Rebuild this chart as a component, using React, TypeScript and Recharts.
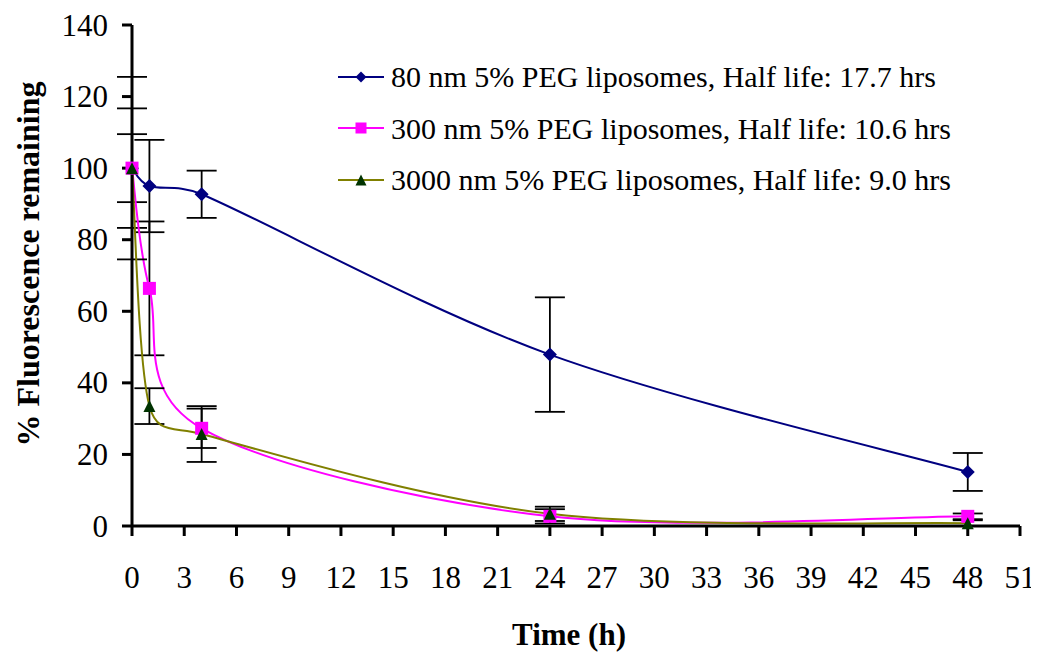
import React from "react";
import { ErrorBar, Line, LineChart, XAxis, YAxis } from "recharts";

const times = [0, 1, 4, 24, 48];
const nm80 = [100, 95, 92.7, 47.9, 15.1];
const nm80Err = [9.5, 12.9, 6.6, 16, 5.3];
const nm300 = [100, 66.4, 27.3, 2.7, 2.7];
const nm300Err = [16.7, 18.7, 5.5, 2, 0.8];
const nm3000 = [100, 33.5, 25.7, 3.4, 0.8];
const nm3000Err = [25.5, 5, 7.8, 2, 0.8];

const xTicks = [0, 3, 6, 9, 12, 15, 18, 21, 24, 27, 30, 33, 36, 39, 42, 45, 48, 51];
const yTicks = [0, 20, 40, 60, 80, 100, 120, 140];

const legendLabels = [
  "80 nm 5% PEG liposomes, Half life: 17.7 hrs",
  "300 nm 5% PEG liposomes, Half life: 10.6 hrs",
  "3000 nm 5% PEG liposomes, Half life: 9.0 hrs",
];

const data = times.map((t, i) => ({
  t,
  a: nm80[i],
  aErr: nm80Err[i],
  b: nm300[i],
  bErr: nm300Err[i],
  c: nm3000[i],
  cErr: nm3000Err[i],
}));

const FONT = '"Liberation Serif", "Times New Roman", serif';
const NAVY = "#000080";
const MAGENTA = "#FF00FF";
const OLIVE = "#808000";
const DARK_GREEN = "#003300";

// Excel-style smoothed line (bezier, control points capped at half a segment)
const excelSmooth = (context: any) => {
  let pts: number[][] = [];
  const dist = (a: number[], b: number[]) => Math.hypot(b[0] - a[0], b[1] - a[1]);
  return {
    areaStart() {},
    areaEnd() {},
    lineStart() {
      pts = [];
    },
    point(x: number, y: number) {
      pts.push([+x, +y]);
    },
    lineEnd() {
      const n = pts.length;
      if (!n) return;
      context.moveTo(pts[0][0], pts[0][1]);
      for (let i = 0; i < n - 1; i++) {
        const p0 = pts[i > 0 ? i - 1 : i];
        const p1 = pts[i];
        const p2 = pts[i + 1];
        const p3 = pts[i + 2 < n ? i + 2 : i + 1];
        const d02 = dist(p0, p2);
        const d12 = dist(p1, p2);
        const d13 = dist(p1, p3);
        let f1 = 1 / 6;
        let f2 = 1 / 6;
        if (d02 / 6 >= d12 / 2 && d02 > 0) f1 = d12 / d02 / 2;
        if (d13 / 6 >= d12 / 2 && d13 > 0) f2 = d12 / d13 / 2;
        context.bezierCurveTo(
          p1[0] + (p2[0] - p0[0]) * f1,
          p1[1] + (p2[1] - p0[1]) * f1,
          p2[0] - (p3[0] - p1[0]) * f2,
          p2[1] - (p3[1] - p1[1]) * f2,
          p2[0],
          p2[1]
        );
      }
    },
  };
};

const Diamond = ({ cx, cy, size = 7, fill = NAVY }: any) => (
  <polygon
    points={`${cx},${cy - size} ${cx + size},${cy} ${cx},${cy + size} ${cx - size},${cy}`}
    fill={fill}
  />
);
const Square = ({ cx, cy, size = 6.5, fill = MAGENTA }: any) => (
  <rect x={cx - size} y={cy - size} width={size * 2} height={size * 2} fill={fill} />
);
const Triangle = ({ cx, cy, size = 6, fill = DARK_GREEN }: any) => (
  <polygon
    points={`${cx},${cy - size} ${cx + size},${cy + size} ${cx - size},${cy + size}`}
    fill={fill}
  />
);

const dotOf = (Shape: any) => (props: any) =>
  <Shape key={`d-${props.index}`} cx={props.cx} cy={props.cy} />;

const XTick = ({ x, y, payload }: any) => (
  <text x={x} y={y + 52} textAnchor="middle" fontFamily={FONT} fontSize={31} fill="#000">
    {payload.value}
  </text>
);

const YTick = ({ x, y, payload }: any) => (
  <text x={x - 14} y={y + 10.5} textAnchor="end" fontFamily={FONT} fontSize={31} fill="#000">
    {payload.value}
  </text>
);

const XTitle = ({ viewBox }: any) => (
  <text
    x={561}
    y={viewBox.y + 119}
    textAnchor="middle"
    fontFamily={FONT}
    fontWeight="bold"
    fontSize={31}
    fill="#000"
  >
    Time (h)
  </text>
);

const YTitle = () => (
  <text
    x={0}
    y={0}
    transform="translate(31, 256) rotate(-90)"
    textAnchor="middle"
    fontFamily={FONT}
    fontWeight="bold"
    fontSize={32}
    fill="#000"
  >
    % Fluorescence remaining
  </text>
);

const legendIcons = [Diamond, Square, Triangle];
const legendColors = [NAVY, MAGENTA, OLIVE];

export default function App() {
  const axisStyle = { stroke: "#000", strokeWidth: 3 };
  return (
    <div style={{ position: "relative", width: 1031, height: 644 }}>
      <LineChart
        width={1031}
        height={644}
        data={data}
        margin={{ top: 17, right: 19, bottom: 0, left: 0 }}
      >
        <XAxis
          dataKey="t"
          type="number"
          domain={[0, 51]}
          ticks={xTicks}
          interval={0}
          height={126}
          tickSize={10}
          tickMargin={0}
          axisLine={axisStyle}
          tickLine={axisStyle}
          tick={<XTick />}
          label={<XTitle />}
        />
        <YAxis
          type="number"
          domain={[0, 140]}
          ticks={yTicks}
          interval={0}
          width={124}
          tickSize={10}
          tickMargin={0}
          axisLine={axisStyle}
          tickLine={axisStyle}
          tick={<YTick />}
          label={<YTitle />}
        />
        <Line
          dataKey="a"
          type={excelSmooth as any}
          stroke={NAVY}
          strokeWidth={2}
          dot={dotOf(Diamond)}
          activeDot={false}
          isAnimationActive={false}
        >
          <ErrorBar dataKey="aErr" direction="y" width={15} stroke="#000" strokeWidth={1.8} />
        </Line>
        <Line
          dataKey="b"
          type={excelSmooth as any}
          stroke={MAGENTA}
          strokeWidth={2}
          dot={dotOf(Square)}
          activeDot={false}
          isAnimationActive={false}
        >
          <ErrorBar dataKey="bErr" direction="y" width={15} stroke="#000" strokeWidth={1.8} />
        </Line>
        <Line
          dataKey="c"
          type={excelSmooth as any}
          stroke={OLIVE}
          strokeWidth={2}
          dot={dotOf(Triangle)}
          activeDot={false}
          isAnimationActive={false}
        >
          <ErrorBar dataKey="cErr" direction="y" width={15} stroke="#000" strokeWidth={1.8} />
        </Line>
      </LineChart>
      <div style={{ position: "absolute", left: 330, top: 43, fontFamily: FONT, fontSize: 30 }}>
        {legendLabels.map((label, i) => {
          const Icon = legendIcons[i];
          return (
            <div key={label} style={{ display: "flex", alignItems: "center", height: 51.5 }}>
              <svg width={46} height={20} style={{ flex: "none" }}>
                <line x1={0} y1={10} x2={46} y2={10} stroke={legendColors[i]} strokeWidth={2} />
                <Icon cx={23} cy={10} size={5.5} />
              </svg>
              <span style={{ marginLeft: 7, whiteSpace: "nowrap", lineHeight: "51.5px" }}>{label}</span>
            </div>
          );
        })}
      </div>
    </div>
  );
}
